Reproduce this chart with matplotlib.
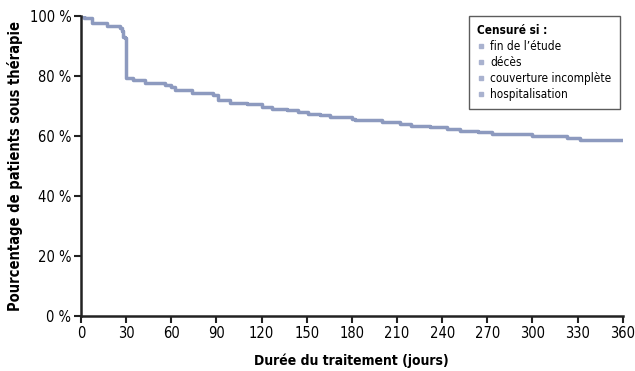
import matplotlib
matplotlib.use("Agg")
import matplotlib.pyplot as plt
from matplotlib.lines import Line2D

# step points (day, % still on therapy)
days = [0, 2, 7, 17, 24, 26, 27, 28, 29, 29.7, 30, 34.5, 42.5, 56, 60, 62.5, 73.5, 88,
        91, 99, 110, 120, 127, 137, 144, 151, 159, 165.5, 180, 182, 200, 212, 219,
        232, 243, 252, 264, 273, 299.5, 322.7, 331.6, 360]
pct = [100, 99.3, 97.8, 96.8, 96.5, 95.9, 95.0, 93.1, 92.5, 92.0, 79.2, 78.7, 77.8, 77.0, 76.2,
       75.3, 74.4, 73.7, 72.0, 71.1, 70.6, 69.6, 69.1, 68.6, 67.9, 67.3, 67.0, 66.4,
       65.8, 65.3, 64.6, 63.9, 63.3, 62.9, 62.2, 61.8, 61.2, 60.6, 60.1, 59.3, 58.7, 58.7]

xticks = list(range(0, 361, 30))
yticks = [0, 20, 40, 60, 80, 100]
ytick_labels = [f"{v} %" for v in yticks]
legend_title = "Censuré si :"
legend_items = ["fin de l\u2019étude", "décès", "couverture incomplète", "hospitalisation"]

line_color = "#8d9abf"
marker_color = "#a9b2cf"

plt.rcParams['font.family'] = ['DejaVu Sans']
plt.rcParams['font.stretch'] = 'condensed'

fig = plt.figure(figsize=(6.35, 3.71), dpi=100)
ax = fig.add_axes([0.1276, 0.148, 0.853, 0.809])

ax.step(days, pct, where='post', color=line_color, linewidth=2.5, solid_capstyle='butt')

ax.set_xlim(0, 360)
ax.set_ylim(0, 100)
ax.set_xticks(xticks)
ax.set_yticks(yticks)
ax.set_yticklabels(ytick_labels)
ax.tick_params(axis='both', labelsize=10.5, width=1.5, length=5, direction='out', pad=2, color='#222222')

for s in ['top', 'right']:
    ax.spines[s].set_visible(False)
for s in ['left', 'bottom']:
    ax.spines[s].set_linewidth(1.8)
    ax.spines[s].set_color('#222222')

ax.set_xlabel("Durée du traitement (jours)", fontsize=10, fontweight='bold', labelpad=9)
ax.set_ylabel("Pourcentage de patients sous thérapie", fontsize=10.5, fontweight='bold', labelpad=5)

handles = [Line2D([], [], linestyle='none', marker='s', markersize=3.5, color=marker_color)
           for _ in legend_items]
leg = ax.legend(handles, legend_items, title=legend_title, loc='upper right',
                bbox_to_anchor=(0.995, 1.0), frameon=True, fancybox=False,
                edgecolor='#333333', fontsize=8.5, title_fontproperties={'weight': 'bold', 'size': 8.5},
                alignment='left', handlelength=0.6, handletextpad=0.5, labelspacing=0.25,
                borderpad=0.7, borderaxespad=0)
leg.get_frame().set_linewidth(1.0)

fig.savefig("out.png", dpi=100)
